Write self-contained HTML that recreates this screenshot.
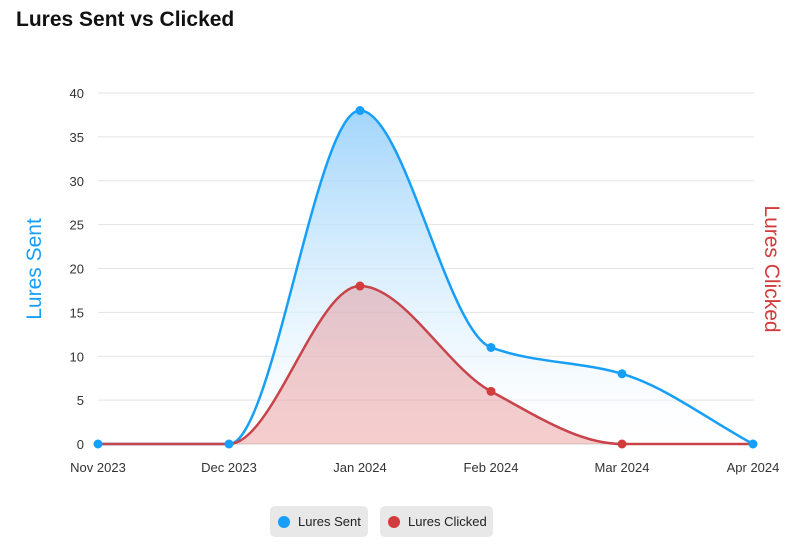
<!DOCTYPE html>
<html><head><meta charset="utf-8">
<style>
body{margin:0;background:#fff;width:799px;height:557px;overflow:hidden;font-family:"Liberation Sans",sans-serif;}
.title{position:absolute;left:16px;top:8px;font-size:21px;font-weight:bold;color:#111;}
.legend{position:absolute;top:506px;height:31px;background:#e8e8e8;border-radius:5px;font-size:13px;color:#222;display:flex;align-items:center;}
.dot{width:12px;height:12px;border-radius:50%;margin:0 8px 0 8px;}
</style></head><body>
<div class="title">Lures Sent vs Clicked</div>
<svg id="chart" width="799" height="557" style="position:absolute;left:0;top:0">
<defs>
<linearGradient id="gs" x1="0" y1="0" x2="0" y2="1"><stop offset="0" stop-color="#9dd3fb" stop-opacity="0.95"/><stop offset="0.75" stop-color="#e8f5fe" stop-opacity="0.6"/><stop offset="1" stop-color="#fff" stop-opacity="0.2"/></linearGradient>
</defs>
</svg>
<div class="legend" style="left:270px;width:98px"><div class="dot" style="background:#179ff7"></div>Lures Sent</div>
<div class="legend" style="left:380px;width:113px"><div class="dot" style="background:#d23c3c"></div>Lures Clicked</div>
<script>
const categories=["Nov 2023","Dec 2023","Jan 2024","Feb 2024","Mar 2024","Apr 2024"];
const sentValues=[0,0,38,11,8,0];
const clickedValues=[0,0,18,6,0,0];
const yTicks=[0,5,10,15,20,25,30,35,40];
const NS="http://www.w3.org/2000/svg";
const svg=document.getElementById('chart');
const x0=98,x1=753,y0=444,y1=93,yMax=40;
const xs=i=>x0+i*(x1-x0)/(categories.length-1);
const ys=v=>y0-v*(y0-y1)/yMax;
function mk(t,a,p){const e=document.createElementNS(NS,t);for(const k in a)e.setAttribute(k,a[k]);(p||svg).appendChild(e);return e;}
yTicks.forEach(t=>{
 const g=mk('line',{x1:x0,x2:754,y1:ys(t),y2:ys(t),stroke:t==0?'#ccc':'#e3e3e3','stroke-width':1});
 
 const l=mk('text',{x:84,y:ys(t)+5,'text-anchor':'end','font-size':13,fill:'#333'});l.textContent=t;
 
});
categories.forEach((c,i)=>{
 const l=mk('text',{x:xs(i),y:472,'text-anchor':'middle','font-size':13,fill:'#333'});l.textContent=c;
 
});
let a=mk('text',{transform:'translate(41,269) rotate(-90)','text-anchor':'middle','font-size':21,fill:'#179ff7'});a.textContent='Lures Sent';

a=mk('text',{transform:'translate(765,269) rotate(90)','text-anchor':'middle','font-size':21,fill:'#d23c3c'});a.textContent='Lures Clicked';

function monotone(pts){
 const n=pts.length,dx=[],m=[],t=[];
 for(let i=0;i<n-1;i++){dx[i]=pts[i+1][0]-pts[i][0];m[i]=(pts[i+1][1]-pts[i][1])/dx[i];}
 t[0]=m[0];t[n-1]=m[n-2];
 for(let i=1;i<n-1;i++){t[i]=(m[i-1]*m[i]<=0)?0:3*(dx[i-1]+dx[i])/((2*dx[i]+dx[i-1])/m[i-1]+(dx[i]+2*dx[i-1])/m[i]);}
 let d='M'+pts[0][0]+','+pts[0][1];
 for(let i=0;i<n-1;i++){const h=dx[i]/3;d+=' C'+(pts[i][0]+h)+','+(pts[i][1]+t[i]*h)+' '+(pts[i+1][0]-h)+','+(pts[i+1][1]-t[i+1]*h)+' '+pts[i+1][0]+','+pts[i+1][1];}
 return d;
}
function series(vals,color,fill,name){
 const pts=vals.map((v,i)=>[xs(i),ys(v)]);
 const d=monotone(pts);
 const ar=mk('path',{d:d+' L'+xs(vals.length-1)+','+y0+' L'+x0+','+y0+' Z',fill:fill,stroke:'none'});
 
 const ln=mk('path',{d:d,fill:'none',stroke:color,'stroke-width':2.5});
 
 return pts;
}
const sp=series(sentValues,'#179ff7','url(#gs)','lures-sent');
const cp=series(clickedValues,'#c8434a','rgba(224,100,100,0.32)','lures-clicked');
sp.forEach(p=>{const c=mk('circle',{cx:p[0],cy:p[1],r:4.5,fill:'#179ff7'});});
cp.forEach((p,i)=>{if(i<2||i==5)return;const c=mk('circle',{cx:p[0],cy:p[1],r:4.5,fill:'#d23c3c'});});
</script>
</body></html>
